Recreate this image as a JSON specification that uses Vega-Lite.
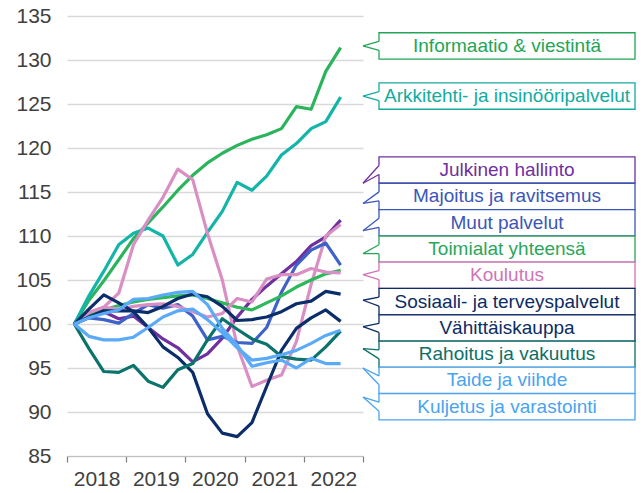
{
"$schema": "https://vega.github.io/schema/vega-lite/v6.json",
"width": 296, "height": 440,
"autosize": "none",
"padding": {"left": 67, "top": 16, "right": 281, "bottom": 37},
"background": "white",
"config": {"font": "Liberation Sans", "view": {"stroke": null}},
"datasets": {
"lines": [
{"series":"Informaatio & viestintä","quarter":"2018-01-01","value":100},{"series":"Informaatio & viestintä","quarter":"2018-04-01","value":102.7},{"series":"Informaatio & viestintä","quarter":"2018-07-01","value":104.9},{"series":"Informaatio & viestintä","quarter":"2018-10-01","value":107.3},{"series":"Informaatio & viestintä","quarter":"2019-01-01","value":109.7},{"series":"Informaatio & viestintä","quarter":"2019-04-01","value":111.5},{"series":"Informaatio & viestintä","quarter":"2019-07-01","value":113.3},{"series":"Informaatio & viestintä","quarter":"2019-10-01","value":115.2},{"series":"Informaatio & viestintä","quarter":"2020-01-01","value":116.9},{"series":"Informaatio & viestintä","quarter":"2020-04-01","value":118.3},{"series":"Informaatio & viestintä","quarter":"2020-07-01","value":119.4},{"series":"Informaatio & viestintä","quarter":"2020-10-01","value":120.3},{"series":"Informaatio & viestintä","quarter":"2021-01-01","value":121.0},{"series":"Informaatio & viestintä","quarter":"2021-04-01","value":121.5},{"series":"Informaatio & viestintä","quarter":"2021-07-01","value":122.2},{"series":"Informaatio & viestintä","quarter":"2021-10-01","value":124.7},{"series":"Informaatio & viestintä","quarter":"2022-01-01","value":124.4},{"series":"Informaatio & viestintä","quarter":"2022-04-01","value":128.7},{"series":"Informaatio & viestintä","quarter":"2022-07-01","value":131.4},
{"series":"Arkkitehti- ja insinööripalvelut","quarter":"2018-01-01","value":100},{"series":"Arkkitehti- ja insinööripalvelut","quarter":"2018-04-01","value":103.2},{"series":"Arkkitehti- ja insinööripalvelut","quarter":"2018-07-01","value":106.0},{"series":"Arkkitehti- ja insinööripalvelut","quarter":"2018-10-01","value":109.0},{"series":"Arkkitehti- ja insinööripalvelut","quarter":"2019-01-01","value":110.3},{"series":"Arkkitehti- ja insinööripalvelut","quarter":"2019-04-01","value":110.9},{"series":"Arkkitehti- ja insinööripalvelut","quarter":"2019-07-01","value":110.0},{"series":"Arkkitehti- ja insinööripalvelut","quarter":"2019-10-01","value":106.7},{"series":"Arkkitehti- ja insinööripalvelut","quarter":"2020-01-01","value":107.9},{"series":"Arkkitehti- ja insinööripalvelut","quarter":"2020-04-01","value":110.4},{"series":"Arkkitehti- ja insinööripalvelut","quarter":"2020-07-01","value":112.8},{"series":"Arkkitehti- ja insinööripalvelut","quarter":"2020-10-01","value":116.1},{"series":"Arkkitehti- ja insinööripalvelut","quarter":"2021-01-01","value":115.2},{"series":"Arkkitehti- ja insinööripalvelut","quarter":"2021-04-01","value":116.8},{"series":"Arkkitehti- ja insinööripalvelut","quarter":"2021-07-01","value":119.2},{"series":"Arkkitehti- ja insinööripalvelut","quarter":"2021-10-01","value":120.5},{"series":"Arkkitehti- ja insinööripalvelut","quarter":"2022-01-01","value":122.2},{"series":"Arkkitehti- ja insinööripalvelut","quarter":"2022-04-01","value":123.0},{"series":"Arkkitehti- ja insinööripalvelut","quarter":"2022-07-01","value":125.8},
{"series":"Julkinen hallinto","quarter":"2018-01-01","value":100},{"series":"Julkinen hallinto","quarter":"2018-04-01","value":101.0},{"series":"Julkinen hallinto","quarter":"2018-07-01","value":101.4},{"series":"Julkinen hallinto","quarter":"2018-10-01","value":100.6},{"series":"Julkinen hallinto","quarter":"2019-01-01","value":100.9},{"series":"Julkinen hallinto","quarter":"2019-04-01","value":99.6},{"series":"Julkinen hallinto","quarter":"2019-07-01","value":98.3},{"series":"Julkinen hallinto","quarter":"2019-10-01","value":97.3},{"series":"Julkinen hallinto","quarter":"2020-01-01","value":95.7},{"series":"Julkinen hallinto","quarter":"2020-04-01","value":96.6},{"series":"Julkinen hallinto","quarter":"2020-07-01","value":98.4},{"series":"Julkinen hallinto","quarter":"2020-10-01","value":100.8},{"series":"Julkinen hallinto","quarter":"2021-01-01","value":102.8},{"series":"Julkinen hallinto","quarter":"2021-04-01","value":104.3},{"series":"Julkinen hallinto","quarter":"2021-07-01","value":105.7},{"series":"Julkinen hallinto","quarter":"2021-10-01","value":107.1},{"series":"Julkinen hallinto","quarter":"2022-01-01","value":108.9},{"series":"Julkinen hallinto","quarter":"2022-04-01","value":109.9},{"series":"Julkinen hallinto","quarter":"2022-07-01","value":111.8},
{"series":"Majoitus ja ravitsemus","quarter":"2018-01-01","value":100},{"series":"Majoitus ja ravitsemus","quarter":"2018-04-01","value":101.3},{"series":"Majoitus ja ravitsemus","quarter":"2018-07-01","value":101.9},{"series":"Majoitus ja ravitsemus","quarter":"2018-10-01","value":103.5},{"series":"Majoitus ja ravitsemus","quarter":"2019-01-01","value":109.0},{"series":"Majoitus ja ravitsemus","quarter":"2019-04-01","value":111.8},{"series":"Majoitus ja ravitsemus","quarter":"2019-07-01","value":114.4},{"series":"Majoitus ja ravitsemus","quarter":"2019-10-01","value":117.6},{"series":"Majoitus ja ravitsemus","quarter":"2020-01-01","value":116.4},{"series":"Majoitus ja ravitsemus","quarter":"2020-04-01","value":110.3},{"series":"Majoitus ja ravitsemus","quarter":"2020-07-01","value":105.0},{"series":"Majoitus ja ravitsemus","quarter":"2020-10-01","value":97.5},{"series":"Majoitus ja ravitsemus","quarter":"2021-01-01","value":92.9},{"series":"Majoitus ja ravitsemus","quarter":"2021-04-01","value":93.6},{"series":"Majoitus ja ravitsemus","quarter":"2021-07-01","value":94.2},{"series":"Majoitus ja ravitsemus","quarter":"2021-10-01","value":98.0},{"series":"Majoitus ja ravitsemus","quarter":"2022-01-01","value":104.5},{"series":"Majoitus ja ravitsemus","quarter":"2022-04-01","value":110.0},{"series":"Majoitus ja ravitsemus","quarter":"2022-07-01","value":111.3},
{"series":"Muut palvelut","quarter":"2018-01-01","value":100},{"series":"Muut palvelut","quarter":"2018-04-01","value":100.7},{"series":"Muut palvelut","quarter":"2018-07-01","value":100.5},{"series":"Muut palvelut","quarter":"2018-10-01","value":100.1},{"series":"Muut palvelut","quarter":"2019-01-01","value":101.2},{"series":"Muut palvelut","quarter":"2019-04-01","value":102.2},{"series":"Muut palvelut","quarter":"2019-07-01","value":101.8},{"series":"Muut palvelut","quarter":"2019-10-01","value":102.2},{"series":"Muut palvelut","quarter":"2020-01-01","value":100.9},{"series":"Muut palvelut","quarter":"2020-04-01","value":98.2},{"series":"Muut palvelut","quarter":"2020-07-01","value":98.6},{"series":"Muut palvelut","quarter":"2020-10-01","value":97.9},{"series":"Muut palvelut","quarter":"2021-01-01","value":97.8},{"series":"Muut palvelut","quarter":"2021-04-01","value":99.6},{"series":"Muut palvelut","quarter":"2021-07-01","value":103.6},{"series":"Muut palvelut","quarter":"2021-10-01","value":106.7},{"series":"Muut palvelut","quarter":"2022-01-01","value":108.4},{"series":"Muut palvelut","quarter":"2022-04-01","value":109.2},{"series":"Muut palvelut","quarter":"2022-07-01","value":106.7},
{"series":"Toimialat yhteensä","quarter":"2018-01-01","value":100},{"series":"Toimialat yhteensä","quarter":"2018-04-01","value":100.9},{"series":"Toimialat yhteensä","quarter":"2018-07-01","value":101.6},{"series":"Toimialat yhteensä","quarter":"2018-10-01","value":102.1},{"series":"Toimialat yhteensä","quarter":"2019-01-01","value":102.5},{"series":"Toimialat yhteensä","quarter":"2019-04-01","value":102.8},{"series":"Toimialat yhteensä","quarter":"2019-07-01","value":103.0},{"series":"Toimialat yhteensä","quarter":"2019-10-01","value":103.2},{"series":"Toimialat yhteensä","quarter":"2020-01-01","value":103.3},{"series":"Toimialat yhteensä","quarter":"2020-04-01","value":102.9},{"series":"Toimialat yhteensä","quarter":"2020-07-01","value":102.4},{"series":"Toimialat yhteensä","quarter":"2020-10-01","value":101.9},{"series":"Toimialat yhteensä","quarter":"2021-01-01","value":101.6},{"series":"Toimialat yhteensä","quarter":"2021-04-01","value":102.4},{"series":"Toimialat yhteensä","quarter":"2021-07-01","value":103.2},{"series":"Toimialat yhteensä","quarter":"2021-10-01","value":104.2},{"series":"Toimialat yhteensä","quarter":"2022-01-01","value":105.0},{"series":"Toimialat yhteensä","quarter":"2022-04-01","value":105.7},{"series":"Toimialat yhteensä","quarter":"2022-07-01","value":106.1},
{"series":"Koulutus","quarter":"2018-01-01","value":100},{"series":"Koulutus","quarter":"2018-04-01","value":101.3},{"series":"Koulutus","quarter":"2018-07-01","value":101.9},{"series":"Koulutus","quarter":"2018-10-01","value":101.7},{"series":"Koulutus","quarter":"2019-01-01","value":102.0},{"series":"Koulutus","quarter":"2019-04-01","value":102.2},{"series":"Koulutus","quarter":"2019-07-01","value":102.3},{"series":"Koulutus","quarter":"2019-10-01","value":102.0},{"series":"Koulutus","quarter":"2020-01-01","value":101.4},{"series":"Koulutus","quarter":"2020-04-01","value":100.8},{"series":"Koulutus","quarter":"2020-07-01","value":101.2},{"series":"Koulutus","quarter":"2020-10-01","value":102.9},{"series":"Koulutus","quarter":"2021-01-01","value":102.5},{"series":"Koulutus","quarter":"2021-04-01","value":105.1},{"series":"Koulutus","quarter":"2021-07-01","value":105.6},{"series":"Koulutus","quarter":"2021-10-01","value":105.6},{"series":"Koulutus","quarter":"2022-01-01","value":106.3},{"series":"Koulutus","quarter":"2022-04-01","value":105.9},{"series":"Koulutus","quarter":"2022-07-01","value":105.8},
{"series":"Sosiaali- ja terveyspalvelut","quarter":"2018-01-01","value":100},{"series":"Sosiaali- ja terveyspalvelut","quarter":"2018-04-01","value":100.8},{"series":"Sosiaali- ja terveyspalvelut","quarter":"2018-07-01","value":101.5},{"series":"Sosiaali- ja terveyspalvelut","quarter":"2018-10-01","value":101.5},{"series":"Sosiaali- ja terveyspalvelut","quarter":"2019-01-01","value":101.5},{"series":"Sosiaali- ja terveyspalvelut","quarter":"2019-04-01","value":101.3},{"series":"Sosiaali- ja terveyspalvelut","quarter":"2019-07-01","value":102.0},{"series":"Sosiaali- ja terveyspalvelut","quarter":"2019-10-01","value":102.9},{"series":"Sosiaali- ja terveyspalvelut","quarter":"2020-01-01","value":103.4},{"series":"Sosiaali- ja terveyspalvelut","quarter":"2020-04-01","value":103.1},{"series":"Sosiaali- ja terveyspalvelut","quarter":"2020-07-01","value":102.0},{"series":"Sosiaali- ja terveyspalvelut","quarter":"2020-10-01","value":100.4},{"series":"Sosiaali- ja terveyspalvelut","quarter":"2021-01-01","value":100.5},{"series":"Sosiaali- ja terveyspalvelut","quarter":"2021-04-01","value":100.8},{"series":"Sosiaali- ja terveyspalvelut","quarter":"2021-07-01","value":101.4},{"series":"Sosiaali- ja terveyspalvelut","quarter":"2021-10-01","value":102.3},{"series":"Sosiaali- ja terveyspalvelut","quarter":"2022-01-01","value":102.6},{"series":"Sosiaali- ja terveyspalvelut","quarter":"2022-04-01","value":103.7},{"series":"Sosiaali- ja terveyspalvelut","quarter":"2022-07-01","value":103.4},
{"series":"Vähittäiskauppa","quarter":"2018-01-01","value":100},{"series":"Vähittäiskauppa","quarter":"2018-04-01","value":101.7},{"series":"Vähittäiskauppa","quarter":"2018-07-01","value":103.3},{"series":"Vähittäiskauppa","quarter":"2018-10-01","value":102.4},{"series":"Vähittäiskauppa","quarter":"2019-01-01","value":101.4},{"series":"Vähittäiskauppa","quarter":"2019-04-01","value":99.6},{"series":"Vähittäiskauppa","quarter":"2019-07-01","value":97.4},{"series":"Vähittäiskauppa","quarter":"2019-10-01","value":96.2},{"series":"Vähittäiskauppa","quarter":"2020-01-01","value":94.5},{"series":"Vähittäiskauppa","quarter":"2020-04-01","value":89.8},{"series":"Vähittäiskauppa","quarter":"2020-07-01","value":87.6},{"series":"Vähittäiskauppa","quarter":"2020-10-01","value":87.2},{"series":"Vähittäiskauppa","quarter":"2021-01-01","value":88.8},{"series":"Vähittäiskauppa","quarter":"2021-04-01","value":92.9},{"series":"Vähittäiskauppa","quarter":"2021-07-01","value":97.0},{"series":"Vähittäiskauppa","quarter":"2021-10-01","value":99.5},{"series":"Vähittäiskauppa","quarter":"2022-01-01","value":100.7},{"series":"Vähittäiskauppa","quarter":"2022-04-01","value":101.6},{"series":"Vähittäiskauppa","quarter":"2022-07-01","value":100.3},
{"series":"Rahoitus ja vakuutus","quarter":"2018-01-01","value":100},{"series":"Rahoitus ja vakuutus","quarter":"2018-04-01","value":97.2},{"series":"Rahoitus ja vakuutus","quarter":"2018-07-01","value":94.6},{"series":"Rahoitus ja vakuutus","quarter":"2018-10-01","value":94.5},{"series":"Rahoitus ja vakuutus","quarter":"2019-01-01","value":95.3},{"series":"Rahoitus ja vakuutus","quarter":"2019-04-01","value":93.5},{"series":"Rahoitus ja vakuutus","quarter":"2019-07-01","value":92.8},{"series":"Rahoitus ja vakuutus","quarter":"2019-10-01","value":94.8},{"series":"Rahoitus ja vakuutus","quarter":"2020-01-01","value":95.5},{"series":"Rahoitus ja vakuutus","quarter":"2020-04-01","value":98.2},{"series":"Rahoitus ja vakuutus","quarter":"2020-07-01","value":100.6},{"series":"Rahoitus ja vakuutus","quarter":"2020-10-01","value":99.4},{"series":"Rahoitus ja vakuutus","quarter":"2021-01-01","value":98.3},{"series":"Rahoitus ja vakuutus","quarter":"2021-04-01","value":97.7},{"series":"Rahoitus ja vakuutus","quarter":"2021-07-01","value":96.3},{"series":"Rahoitus ja vakuutus","quarter":"2021-10-01","value":96.0},{"series":"Rahoitus ja vakuutus","quarter":"2022-01-01","value":95.9},{"series":"Rahoitus ja vakuutus","quarter":"2022-04-01","value":97.4},{"series":"Rahoitus ja vakuutus","quarter":"2022-07-01","value":99.2},
{"series":"Taide ja viihde","quarter":"2018-01-01","value":100},{"series":"Taide ja viihde","quarter":"2018-04-01","value":98.6},{"series":"Taide ja viihde","quarter":"2018-07-01","value":98.2},{"series":"Taide ja viihde","quarter":"2018-10-01","value":98.2},{"series":"Taide ja viihde","quarter":"2019-01-01","value":98.5},{"series":"Taide ja viihde","quarter":"2019-04-01","value":99.6},{"series":"Taide ja viihde","quarter":"2019-07-01","value":100.8},{"series":"Taide ja viihde","quarter":"2019-10-01","value":101.5},{"series":"Taide ja viihde","quarter":"2020-01-01","value":101.7},{"series":"Taide ja viihde","quarter":"2020-04-01","value":100.5},{"series":"Taide ja viihde","quarter":"2020-07-01","value":99.0},{"series":"Taide ja viihde","quarter":"2020-10-01","value":97.3},{"series":"Taide ja viihde","quarter":"2021-01-01","value":95.9},{"series":"Taide ja viihde","quarter":"2021-04-01","value":96.1},{"series":"Taide ja viihde","quarter":"2021-07-01","value":96.5},{"series":"Taide ja viihde","quarter":"2021-10-01","value":97.0},{"series":"Taide ja viihde","quarter":"2022-01-01","value":97.8},{"series":"Taide ja viihde","quarter":"2022-04-01","value":98.7},{"series":"Taide ja viihde","quarter":"2022-07-01","value":99.3},
{"series":"Kuljetus ja varastointi","quarter":"2018-01-01","value":100},{"series":"Kuljetus ja varastointi","quarter":"2018-04-01","value":100.7},{"series":"Kuljetus ja varastointi","quarter":"2018-07-01","value":101.2},{"series":"Kuljetus ja varastointi","quarter":"2018-10-01","value":101.6},{"series":"Kuljetus ja varastointi","quarter":"2019-01-01","value":102.8},{"series":"Kuljetus ja varastointi","quarter":"2019-04-01","value":102.9},{"series":"Kuljetus ja varastointi","quarter":"2019-07-01","value":103.3},{"series":"Kuljetus ja varastointi","quarter":"2019-10-01","value":103.6},{"series":"Kuljetus ja varastointi","quarter":"2020-01-01","value":103.7},{"series":"Kuljetus ja varastointi","quarter":"2020-04-01","value":102.2},{"series":"Kuljetus ja varastointi","quarter":"2020-07-01","value":99.5},{"series":"Kuljetus ja varastointi","quarter":"2020-10-01","value":97.6},{"series":"Kuljetus ja varastointi","quarter":"2021-01-01","value":95.2},{"series":"Kuljetus ja varastointi","quarter":"2021-04-01","value":95.6},{"series":"Kuljetus ja varastointi","quarter":"2021-07-01","value":95.9},{"series":"Kuljetus ja varastointi","quarter":"2021-10-01","value":95.0},{"series":"Kuljetus ja varastointi","quarter":"2022-01-01","value":96.1},{"series":"Kuljetus ja varastointi","quarter":"2022-04-01","value":95.5},{"series":"Kuljetus ja varastointi","quarter":"2022-07-01","value":95.5}
],
"labels": [
{"series":"Informaatio & viestintä","labelValue":131.6,"pointerValue":131.6},
{"series":"Arkkitehti- ja insinööripalvelut","labelValue":125.9,"pointerValue":125.9},
{"series":"Julkinen hallinto","labelValue":117.5,"pointerValue":116.0},
{"series":"Majoitus ja ravitsemus","labelValue":114.5,"pointerValue":113.7},
{"series":"Muut palvelut","labelValue":111.5,"pointerValue":110.6},
{"series":"Toimialat yhteensä","labelValue":108.5,"pointerValue":108.0},
{"series":"Koulutus","labelValue":105.55,"pointerValue":105.6},
{"series":"Sosiaali- ja terveyspalvelut","labelValue":102.55,"pointerValue":102.7},
{"series":"Vähittäiskauppa","labelValue":99.55,"pointerValue":99.7},
{"series":"Rahoitus ja vakuutus","labelValue":96.55,"pointerValue":97.2},
{"series":"Taide ja viihde","labelValue":93.6,"pointerValue":95.0},
{"series":"Kuljetus ja varastointi","labelValue":90.6,"pointerValue":91.7}
]
},
"layer": [
{
"mark": {"type": "rule", "color": "#8c8c8c", "strokeWidth": 1.5},
"encoding": {
"x": {"datum": {"year": 2020, "month": 4, "date": 1, "utc": true}, "type": "temporal", "scale": {"type": "utc"}}
}
},
{
"data": {"name": "lines"},
"mark": {"type": "line", "strokeWidth": 3.2, "strokeJoin": "round"},
"encoding": {
"x": {"field": "quarter", "timeUnit": "utcyearquarter", "type": "temporal", "bandPosition": 0.5,
"scale": {"type": "utc", "domain": [{"year": 2018, "month": 1, "date": 1, "utc": true}, {"year": 2023, "month": 1, "date": 1, "utc": true}], "nice": false},
"axis": {"title": null, "values": [{"year": 2018, "month": 1, "date": 1, "utc": true}, {"year": 2019, "month": 1, "date": 1, "utc": true}, {"year": 2020, "month": 1, "date": 1, "utc": true}, {"year": 2021, "month": 1, "date": 1, "utc": true}, {"year": 2022, "month": 1, "date": 1, "utc": true}, {"year": 2023, "month": 1, "date": 1, "utc": true}],
"format": "%Y", "labelExpr": "utcyear(datum.value) >= 2023 ? '' : utcFormat(datum.value, '%Y')",
"labelOffset": 29.6, "labelFlush": false, "labelOverlap": false, "grid": false,
"domain": true, "domainColor": "#bfbfbf", "domainWidth": 1.2, "ticks": true, "tickColor": "#7f7f7f", "tickSize": 6, "tickWidth": 1.2,
"labelFontSize": 21, "labelColor": "#404040", "labelPadding": 6, "labelAngle": 0}},
"y": {"field": "value", "type": "quantitative",
"scale": {"domain": [85, 135], "nice": false, "zero": false},
"axis": {"title": null, "values": [85, 90, 95, 100, 105, 110, 115, 120, 125, 130, 135], "grid": true, "gridColor": "#d9d9d9", "gridWidth": 1.5, "ticks": false, "domain": false, "labelFontSize": 21, "labelColor": "#404040", "labelPadding": 16}},
"color": {"field": "series", "type": "nominal", "legend": null,
"scale": {"domain": ["Informaatio & viestintä", "Arkkitehti- ja insinööripalvelut", "Julkinen hallinto", "Majoitus ja ravitsemus", "Muut palvelut", "Toimialat yhteensä", "Koulutus", "Sosiaali- ja terveyspalvelut", "Vähittäiskauppa", "Rahoitus ja vakuutus", "Taide ja viihde", "Kuljetus ja varastointi"],
"range": ["#2bb45c", "#12b5a8", "#7030a0", "#d98fc4", "#3f62c8", "#2db85c", "#d98fc4", "#0b2e6b", "#0b2e6b", "#0a736b", "#5aaaf8", "#5aaaf8"]}}
}
},
{
"data": {"name": "labels"},
"mark": {"type": "rect", "fill": "white", "strokeWidth": 1.3, "xOffset": 16, "x2Offset": 272, "yOffset": -13.15, "y2Offset": 13.15},
"encoding": {
"x": {"datum": {"year": 2023, "month": 1, "date": 1, "utc": true}, "type": "temporal", "scale": {"type": "utc"}},
"x2": {"datum": {"year": 2023, "month": 1, "date": 1, "utc": true}},
"y": {"field": "labelValue", "type": "quantitative"},
"y2": {"field": "labelValue"},
"stroke": {"field": "series", "type": "nominal", "legend": null,
"scale": {"domain": ["Informaatio & viestintä", "Arkkitehti- ja insinööripalvelut", "Julkinen hallinto", "Majoitus ja ravitsemus", "Muut palvelut", "Toimialat yhteensä", "Koulutus", "Sosiaali- ja terveyspalvelut", "Vähittäiskauppa", "Rahoitus ja vakuutus", "Taide ja viihde", "Kuljetus ja varastointi"],
"range": ["#22a557", "#13ab9f", "#7030a0", "#3b56b8", "#3b56b8", "#2aa65a", "#d073b8", "#0c2c63", "#0c2c63", "#0b6f68", "#4aa3f0", "#4aa3f0"]}}
}
},
{
"data": {"name": "labels"},
"mark": {"type": "rule", "color": "white", "strokeWidth": 2.5, "xOffset": 16, "yOffset": -4.5, "y2Offset": 4.5},
"encoding": {
"x": {"datum": {"year": 2023, "month": 1, "date": 1, "utc": true}, "type": "temporal", "scale": {"type": "utc"}},
"y": {"field": "labelValue", "type": "quantitative"},
"y2": {"field": "labelValue"}
}
},
{
"data": {"name": "labels"},
"mark": {"type": "rule", "strokeWidth": 1.3, "xOffset": 16, "yOffset": -4.5},
"encoding": {
"x": {"datum": {"year": 2023, "month": 1, "date": 1, "utc": true}, "type": "temporal", "scale": {"type": "utc"}},
"x2": {"datum": {"year": 2023, "month": 1, "date": 1, "utc": true}},
"y": {"field": "labelValue", "type": "quantitative"},
"y2": {"field": "pointerValue"},
"stroke": {"field": "series", "type": "nominal", "legend": null}
}
},
{
"data": {"name": "labels"},
"mark": {"type": "rule", "strokeWidth": 1.3, "xOffset": 16, "yOffset": 4.5},
"encoding": {
"x": {"datum": {"year": 2023, "month": 1, "date": 1, "utc": true}, "type": "temporal", "scale": {"type": "utc"}},
"x2": {"datum": {"year": 2023, "month": 1, "date": 1, "utc": true}},
"y": {"field": "labelValue", "type": "quantitative"},
"y2": {"field": "pointerValue"},
"stroke": {"field": "series", "type": "nominal", "legend": null}
}
},
{
"data": {"name": "labels"},
"mark": {"type": "text", "fontSize": 19, "xOffset": 144, "align": "center", "baseline": "middle"},
"encoding": {
"x": {"datum": {"year": 2023, "month": 1, "date": 1, "utc": true}, "type": "temporal", "scale": {"type": "utc"}},
"y": {"field": "labelValue", "type": "quantitative"},
"text": {"field": "series"},
"fill": {"field": "series", "type": "nominal", "legend": null,
"scale": {"domain": ["Informaatio & viestintä", "Arkkitehti- ja insinööripalvelut", "Julkinen hallinto", "Majoitus ja ravitsemus", "Muut palvelut", "Toimialat yhteensä", "Koulutus", "Sosiaali- ja terveyspalvelut", "Vähittäiskauppa", "Rahoitus ja vakuutus", "Taide ja viihde", "Kuljetus ja varastointi"],
"range": ["#22a557", "#13ab9f", "#7030a0", "#3b56b8", "#3b56b8", "#2aa65a", "#d073b8", "#0c2c63", "#0c2c63", "#0b6f68", "#4aa3f0", "#4aa3f0"]}}
}
}
]
}
